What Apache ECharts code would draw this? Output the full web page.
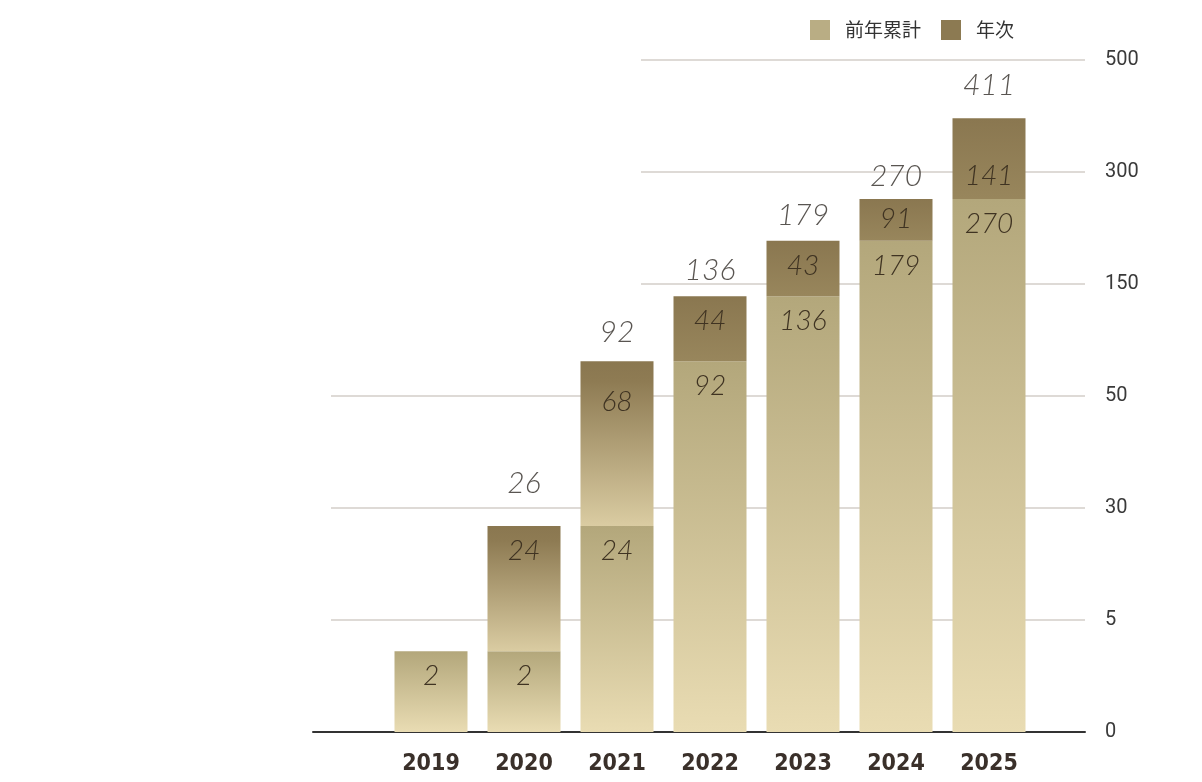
<!DOCTYPE html>
<html>
<head>
<meta charset="utf-8">
<script src="https://cdn.jsdelivr.net/npm/echarts@6/dist/echarts.min.js"></script>
<style>
html,body{margin:0;padding:0;background:#fff;}
#main{width:1202px;height:782px;}
</style>
</head>
<body>
<div id="main"></div>
<script>
var years = ['2019', '2020', '2021', '2022', '2023', '2024', '2025'];
var prevCum = [2, 2, 24, 92, 136, 179, 270];       // 前年累計 (printed)
var annual = [null, 24, 68, 44, 43, 91, 141];      // 年次 (printed)
var totals = [null, 26, 92, 136, 179, 270, 411];   // printed above bars
var yTicks = [0, 5, 30, 50, 150, 300, 500];        // right axis, evenly spaced

// where the bars really end
var prevTop = [3.6, 3.6, 26, 81, 139, 208, 264];
var totalTop = [3.6, 26, 81, 139, 208, 264, 396];

// small nudges of the printed numbers (px), as placed in the original
var upperNudge = [0, 0, 16, 0, 0, -5, 33];
var totalNudge = [0, -14, 0, 3, 4, 6, -4];

// value -> slot on the broken axis (0..6)
function toPos(v){
	for (var i = 1; i < yTicks.length; i++) {
		if (v <= yTicks[i]) return (i-1) + (v - yTicks[i-1])/(yTicks[i] - yTicks[i-1]);
	}
	return yTicks.length - 1;
}

var grad = echarts.graphic.LinearGradient;
var lowerData = prevTop.map(function(v){
	return {value: toPos(v), itemStyle:{color: new grad(0,0,0,1,[{offset:0,color:'#b3a77b'},{offset:1,color:'#e9dcb3'}])}};
});
var upperData = totalTop.map(function(v,i){
	if (annual[i] == null) return null;
	var h = toPos(v) - toPos(prevTop[i]);
	var stops = h > 1
		? [{offset:0,color:'#8a7750'},{offset:0.12,color:'#8e7b53'},{offset:1,color:'#dacca2'}]
		: [{offset:0,color:'#8a7750'},{offset:1,color:'#98865c'}];
	return {value: h, itemStyle:{color: new grad(0,0,0,1,stops)}, label:{offset:[0, upperNudge[i]]}};
});
var topData = totalTop.map(function(v,i){
	return totals[i] == null ? null : {value:[years[i], toPos(v)], label:{offset:[0, totalNudge[i]]}};
});

var numFont = 'Lato';
var yearFont = "'Liberation Sans Narrow', 'DejaVu Sans Condensed', 'Roboto', sans-serif";

var myChart = echarts.init(document.getElementById('main'));
var option = {
	animation: false,
	legend: {
		left: 810, top: 20, padding: 0,
		itemWidth: 20, itemHeight: 20, itemGap: 20,
		icon: 'rect',
		textStyle: {fontSize: 19, color: '#333', fontFamily: 'Noto Sans CJK JP', padding: [0,0,0,10]},
		data: [
			{name:'前年累計', itemStyle:{color:'#b9ad84'}},
			{name:'年次', itemStyle:{color:'#8c7a52'}}
		]
	},
	grid: [
		{left: 313, right: 117, top: 60, bottom: 50},
		{left: 331, right: 117, top: 396, bottom: 162},
		{left: 641, right: 117, top: 60, bottom: 498},
		{left: 384.5, right: 166.5, top: 60, bottom: 50}
	],
	xAxis: [
		{gridIndex:0, type:'value', min:0, max:1, splitLine:{show:false}, axisTick:{show:false}, axisLabel:{show:false},
		 axisLine:{show:true, lineStyle:{color:'#333', width:2}}},
		{gridIndex:1, type:'value', show:false},
		{gridIndex:2, type:'value', show:false},
		{gridIndex:3, type:'category', data: years,
		 axisLine:{show:false}, axisTick:{show:false},
		 axisLabel:{margin:21, fontSize:23, fontWeight:'bold', fontFamily:yearFont, color:'#3a302a'}}
	],
	yAxis: [
		{gridIndex:0, type:'value', position:'right', min:0, max:6, interval:1,
		 axisLine:{show:false}, axisTick:{show:false}, splitLine:{show:false},
		 axisLabel:{margin:20, fontSize:20, fontFamily:'Roboto', color:'#3a3a3a',
		   formatter:function(v){ return yTicks[v]; }}},
		{gridIndex:1, type:'value', min:1, max:3, interval:1, axisLine:{show:false}, axisTick:{show:false}, axisLabel:{show:false},
		 splitLine:{lineStyle:{color:'#dedad6', width:2}}},
		{gridIndex:2, type:'value', min:4, max:6, interval:1, axisLine:{show:false}, axisTick:{show:false}, axisLabel:{show:false},
		 splitLine:{lineStyle:{color:'#dedad6', width:2}}},
		{gridIndex:3, type:'value', min:0, max:6, show:false}
	],
	series: [
		{
			name:'前年累計', type:'bar', stack:'a', xAxisIndex:3, yAxisIndex:3, barWidth:73,
			data: lowerData,
			label:{show:true, position:'insideTop', distance:11, fontSize:28, color:'#3f3322',
				fontFamily:numFont, fontStyle:'italic', fontWeight:300,
				formatter:function(p){ return prevCum[p.dataIndex]; }}
		},
		{
			name:'年次', type:'bar', stack:'a', xAxisIndex:3, yAxisIndex:3, barWidth:73,
			data: upperData,
			label:{show:true, position:'insideTop', distance:11, fontSize:28, color:'#3f3322',
				fontFamily:numFont, fontStyle:'italic', fontWeight:300,
				formatter:function(p){ return annual[p.dataIndex]; }}
		},
		{
			name:'total', type:'scatter', xAxisIndex:3, yAxisIndex:3, symbolSize:0,
			itemStyle:{color:'rgba(0,0,0,0)'},
			data: topData,
			label:{show:true, position:'top', distance:14, fontSize:30, color:'#2f2a26',
				fontFamily:numFont, fontStyle:'italic', fontWeight:300,
				formatter:function(p){ return totals[p.dataIndex]; }}
		}
	]
};
myChart.setOption(option);
</script>
</body>
</html>
